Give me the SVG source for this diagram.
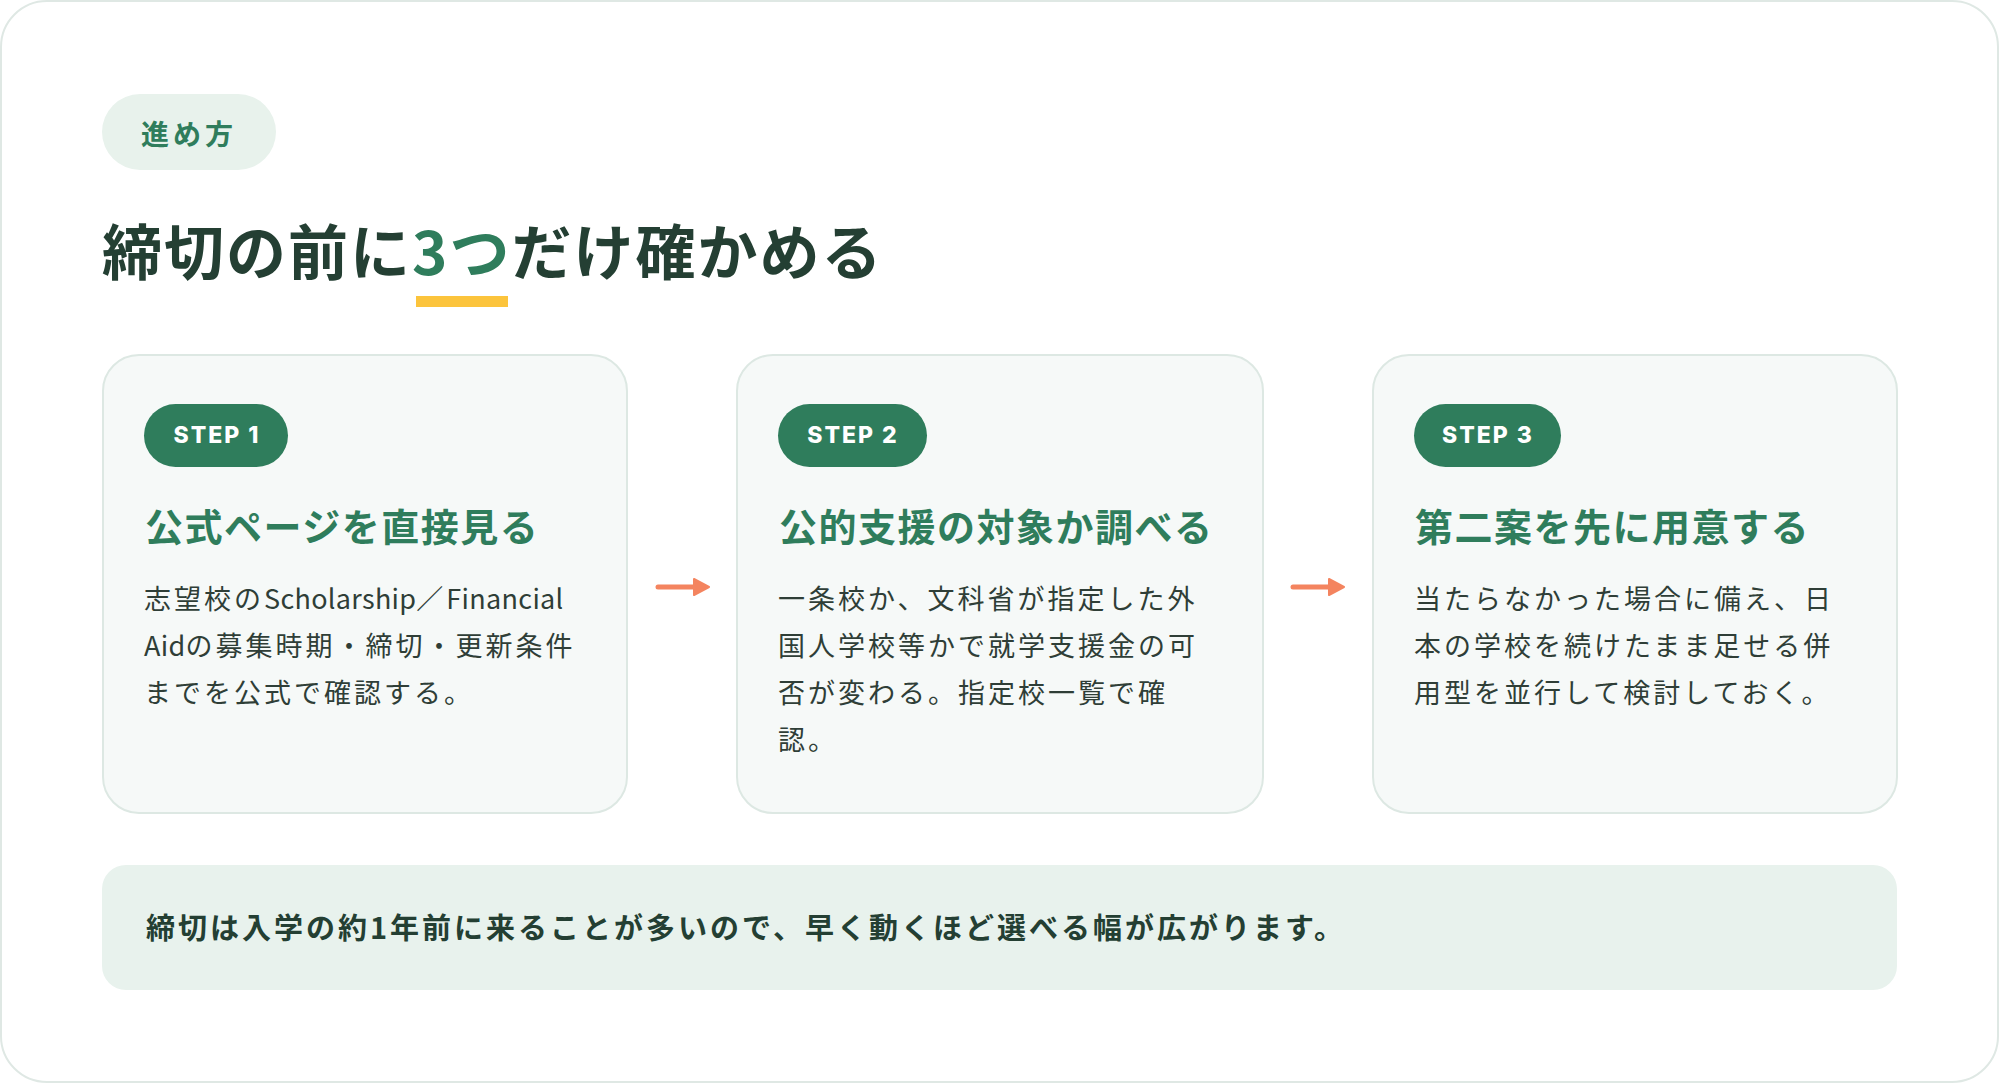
<svg xmlns="http://www.w3.org/2000/svg" width="2000" height="1084" viewBox="0 0 2000 1084">
  <defs>
    <style>
      .jp { font-family: "Noto Sans CJK JP", "Noto Sans", sans-serif; }
      .title { font-size: 60px; font-weight: 700; fill: #243f33; letter-spacing: 2px; }
      .green { fill: #2f7d5c; }
      .card { fill: #f6f9f8; stroke: #dde8e3; stroke-width: 2; }
      .badge { fill: #2f7d5c; }
      .badge-text { font-family: Inter, "Noto Sans", sans-serif; font-size: 23px; font-weight: 800; fill: #ffffff; letter-spacing: 2px; }
      .heading { font-size: 38px; font-weight: 700; fill: #2f7d5c; letter-spacing: 1.5px; }
      .body { font-size: 27px; font-weight: 400; fill: #2f3e37; letter-spacing: 3px; }
      .lat { letter-spacing: 0.3px; }
      .arrow { stroke: #f4845f; stroke-width: 5; stroke-linecap: round; fill: none; }
      .arrowhead { fill: #f4845f; stroke: #f4845f; stroke-width: 2; stroke-linejoin: round; }
    </style>
  </defs>

  <rect x="1" y="1" width="1997" height="1081" rx="46" fill="#ffffff" stroke="#dfe8e4" stroke-width="2"/>

  <g id="label">
    <rect x="102" y="94" width="174" height="76" rx="38" fill="#e8f2ec"/>
    <text class="jp" x="189" y="145" text-anchor="middle" font-size="28" font-weight="700" fill="#2f7d5c" letter-spacing="4">進め方</text>
  </g>

  <g id="title">
    <text class="jp title" x="102" y="275">締切の前に<tspan class="green">3つ</tspan>だけ確かめる</text>
    <rect x="416" y="296" width="92" height="11" fill="#fcc43c"/>
  </g>

  <g id="step1">
    <rect class="card" x="103" y="355" width="524" height="458" rx="36"/>
    <rect class="badge" x="144" y="404" width="144" height="63" rx="31.5"/>
    <text class="badge-text" x="217" y="443" text-anchor="middle">STEP 1</text>
    <text class="jp heading" x="145" y="541">公式ページを直接見る</text>
    <text class="jp body" x="144" y="609">志望校の<tspan class="lat">Scholarship</tspan>／<tspan class="lat">Financial</tspan></text>
    <text class="jp body" x="144" y="656"><tspan class="lat">Aid</tspan>の募集時期・締切・更新条件</text>
    <text class="jp body" x="144" y="703">までを公式で確認する。</text>
  </g>

  <g id="step2">
    <rect class="card" x="737" y="355" width="526" height="458" rx="36"/>
    <rect class="badge" x="778" y="404" width="149" height="63" rx="31.5"/>
    <text class="badge-text" x="853" y="443" text-anchor="middle">STEP 2</text>
    <text class="jp heading" x="779" y="541">公的支援の対象か調べる</text>
    <text class="jp body" x="778" y="609">一条校か、文科省が指定した外</text>
    <text class="jp body" x="778" y="656">国人学校等かで就学支援金の可</text>
    <text class="jp body" x="778" y="703">否が変わる。指定校一覧で確</text>
    <text class="jp body" x="778" y="750">認。</text>
  </g>

  <g id="step3">
    <rect class="card" x="1373" y="355" width="524" height="458" rx="36"/>
    <rect class="badge" x="1414" y="404" width="147" height="63" rx="31.5"/>
    <text class="badge-text" x="1488" y="443" text-anchor="middle">STEP 3</text>
    <text class="jp heading" x="1415" y="541">第二案を先に用意する</text>
    <text class="jp body" x="1414" y="609">当たらなかった場合に備え、日</text>
    <text class="jp body" x="1414" y="656">本の学校を続けたまま足せる併</text>
    <text class="jp body" x="1414" y="703">用型を並行して検討しておく。</text>
  </g>

  <g id="connectors">
    <line class="arrow" x1="658" y1="587" x2="696" y2="587"/>
    <polygon class="arrowhead" points="694,579 709,587 694,595"/>
    <line class="arrow" x1="1293" y1="587" x2="1331" y2="587"/>
    <polygon class="arrowhead" points="1329,579 1344,587 1329,595"/>
  </g>

  <g id="note">
    <rect x="102" y="865" width="1795" height="125" rx="24" fill="#e8f2ed"/>
    <text class="jp" x="146" y="939" font-size="29" font-weight="700" fill="#243f33" letter-spacing="3">締切は入学の約1年前に来ることが多いので、早く動くほど選べる幅が広がります。</text>
  </g>
</svg>
